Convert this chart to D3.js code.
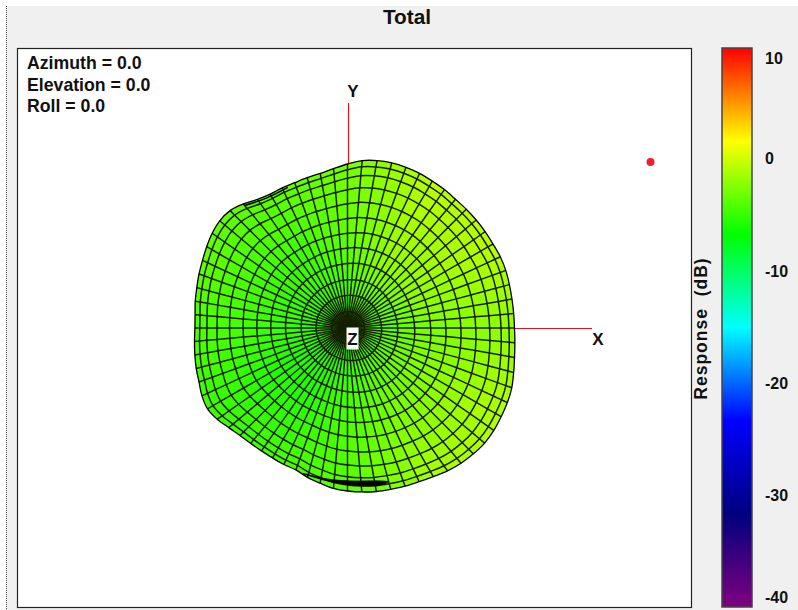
<!DOCTYPE html>
<html>
<head>
<meta charset="utf-8">
<script src="https://cdn.jsdelivr.net/npm/d3@7"></script>
<style>
  html, body { margin: 0; padding: 0; background: #fff; }
  svg { display: block; }
  text { font-family: "Liberation Sans", Arial, sans-serif; font-weight: bold; fill: #111; }
</style>
</head>
<body>
<svg id="chart" width="798" height="610"></svg>
<script>
// balloon outline, one value per meridian (every 5 deg, counter-clockwise from +X)
const limbRadius = [
    83.5, 83.4, 83.5, 83.8, 84.2, 84.3, 84, 84, 84, 84,
    84, 84.5, 84.8, 85.3, 85.5, 85.5, 85, 84, 82, 80,
    78.5, 77.8, 77.3, 77.3, 77.3, 78.5, 81, 83, 83.4, 82.6,
    81.3, 80, 79, 78, 77.3, 76.5, 76.3, 76.8, 77.5, 78.3,
    79, 80.3, 80.8, 79.5, 77.5, 76, 75.3, 75, 75, 75.3,
    75.5, 77.3, 78.8, 80.5, 81.5, 82.3, 83, 83.5, 84.2, 84.8,
    85.8, 87.2, 88.3, 89, 89.5, 89.3, 88.7, 88.2, 87.4, 86,
    84.8, 84
];
// rings of the mesh, as a fraction of the outline
const ringFractions = [0, 0.1, 0.2, 0.295, 0.395, 0.49, 0.58, 0.67, 0.76, 0.845, 0.915, 0.965, 1];

// response (dB), every 30 deg of azimuth
const sectorAzimuths = [0, 30, 60, 90, 120, 150, 180, 210, 240, 270, 300, 330, 360];
const responseCentre = [-4.9, -4.8, -4.8, -5, -5.1, -5.2, -5.2, -5.3, -5.4, -5.4, -5.1, -4.9, -4.9];
const responseMiddle = [-2.75, -1.8, -1.8, -3.7, -4.7, -5, -4.7, -5.8, -5.7, -4.4, -3.1, -2.4, -2.75];
const responseOuter = [-1.8, -0.6, -0.5, -2.75, -3.7, -3.4, -4, -4.7, -4.4, -3.7, -1.1, -0.8, -1.8];
const responseRings = [0, 0.45, 1];

// dark folds of the surface along the outline
const foldBottomAz = [253, 262, 271, 282, 285];
const foldBottomInner = [76, 76.2, 76.5, 78.2, 79.5];
const foldBottomOuter = [76.2, 77, 78.5, 80.2, 79.6];
const foldTopAz = [113, 122, 130];
const foldTopRadius = [76.4, 76.6, 80];

const colorStops = ["#ff0000", "#ffff00", "#00ff00", "#00ffff", "#0000ff", "#00007f", "#800080"];
const colorTicks = [10, 0, -10, -20, -30, -40];
const viewLabels = ["Azimuth = 0.0", "Elevation = 0.0", "Roll = 0.0"];

const svg = d3.select("#chart");
const plot = { left: 17, top: 48, right: 691, bottom: 607 };
const bar = { left: 722, top: 48, right: 752, bottom: 607 };
const centre = { x: 347.5, y: 328 };

// window background
svg.append("rect").attr("y", 6).attr("width", 798).attr("height", 604).attr("fill", "#f0f0f0");
svg.append("rect").attr("y", 6).attr("width", 6).attr("height", 604).attr("fill", "#fff");
svg.append("line").attr("x1", 6.5).attr("x2", 6.5).attr("y1", 6).attr("y2", 610)
    .attr("stroke", "#555").attr("stroke-dasharray", "1 1");

svg.append("text").attr("x", 407).attr("y", 24).attr("text-anchor", "middle")
    .style("font-size", "20.8px").text("Total");

svg.append("rect")
    .attr("x", plot.left + 0.5).attr("y", plot.top + 0.5)
    .attr("width", plot.right - plot.left).attr("height", plot.bottom - plot.top)
    .attr("fill", "#fff").attr("stroke", "#222").attr("stroke-width", 1.2);

svg.append("g").selectAll("text").data(viewLabels).join("text")
    .attr("x", 27).attr("y", (d, i) => 69 + i * 21.5)
    .style("font-size", "17.7px").text(d => d);

// axes of the view, behind the surface
const axesG = svg.append("g").attr("stroke", "#e0141e").attr("stroke-width", 1.2);
axesG.append("line").attr("x1", 348.5).attr("x2", 348.5).attr("y1", 103).attr("y2", centre.y);
axesG.append("line").attr("x1", centre.x).attr("x2", 592).attr("y1", 328.5).attr("y2", 328.5);
svg.append("text").attr("x", 353).attr("y", 97).attr("text-anchor", "middle").style("font-size", "17px").text("Y");
svg.append("text").attr("x", 598).attr("y", 345).attr("text-anchor", "middle").style("font-size", "17px").text("X");

svg.append("circle").attr("cx", 650.5).attr("cy", 162).attr("r", 4).attr("fill", "#ee2030");

// colour scale shared by the surface and the colour bar
const colorScale = d3.scaleLinear()
    .domain(colorStops.map((c, i) => 10 - i * 50 / (colorStops.length - 1)))
    .range(colorStops)
    .clamp(true);

// surface mesh
const radius = d3.scaleLinear().domain([0, 100]).range([0, 200]);
const meridians = limbRadius.length;
const azStep = 360 / meridians;
const sectorScale = series => d3.scaleLinear().domain(sectorAzimuths).range(series);
const centreAt = sectorScale(responseCentre), middleAt = sectorScale(responseMiddle), outerAt = sectorScale(responseOuter);

function responseAt(az, frac) {
    const ringScale = d3.scaleLinear().domain(responseRings).range([centreAt(az), middleAt(az), outerAt(az)]);
    return ringScale(frac);
}

// the bumps of the outline fade out towards the middle of the surface
const limbSoft = limbRadius.map((l, i) =>
    d3.mean(d3.range(-6, 7), k => limbRadius[(i + k + meridians) % meridians]));
const meshRadius = (i, f) => {
    const m = (i + meridians) % meridians;
    return f * (limbSoft[m] + (limbRadius[m] - limbSoft[m]) * Math.pow(f, 3));
};

// math azimuth to d3 radial angle (0 = up, clockwise)
const toAngle = az => (90 - az) * Math.PI / 180;
const polar = d3.lineRadial()
    .angle(d => toAngle(d.az))
    .radius(d => radius(d.r));

const cells = [];
limbRadius.forEach((limb, i) => {
    d3.pairs(ringFractions).forEach(([f0, f1]) => {
        const az0 = i * azStep, az1 = (i + 1) * azStep;
        cells.push({
            corners: [
                { az: az0, r: meshRadius(i, f0) }, { az: az1, r: meshRadius(i + 1, f0) },
                { az: az1, r: meshRadius(i + 1, f1) }, { az: az0, r: meshRadius(i, f1) }
            ],
            db: responseAt(az0 + azStep / 2, (f0 + f1) / 2)
        });
    });
});

const mesh = svg.append("g").attr("transform", `translate(${centre.x},${centre.y})`);

mesh.append("g").selectAll("path").data(cells).join("path")
    .attr("d", d => polar.curve(d3.curveLinearClosed)(d.corners))
    .attr("fill", d => colorScale(d.db))
    .attr("stroke", d => colorScale(d.db))
    .attr("stroke-width", 0.4);

// rings and meridians
const ringPath = f => polar.curve(d3.curveCatmullRomClosed)(limbRadius.map((l, i) => ({ az: i * azStep, r: meshRadius(i, f) })));

mesh.append("g").selectAll("path").data(ringFractions.slice(1, -1)).join("path")
    .attr("fill", "none").attr("stroke", "#142000").attr("stroke-width", 1.5)
    .attr("d", ringPath);

mesh.append("g").selectAll("path").data(limbRadius).join("path")
    .attr("fill", "none").attr("stroke", "#142000").attr("stroke-width", 1.5)
    .attr("d", (l, i) => polar.curve(d3.curveLinear)(ringFractions.map(f => ({ az: i * azStep, r: meshRadius(i, f) }))));

// outline and folds
mesh.append("path").attr("fill", "none").attr("stroke", "#000").attr("stroke-width", 1.3)
    .attr("d", ringPath(1));
mesh.append("path").attr("fill", "#000").attr("stroke", "#000").attr("stroke-width", 1)
    .attr("d", d3.areaRadial()
        .angle(d => toAngle(d))
        .innerRadius((d, i) => radius(foldBottomInner[i]))
        .outerRadius((d, i) => radius(foldBottomOuter[i]))
        .curve(d3.curveCatmullRom)(foldBottomAz));
mesh.append("path").attr("fill", "none").attr("stroke", "#000").attr("stroke-width", 1.5)
    .attr("d", polar.curve(d3.curveCatmullRom)(foldTopAz.map((az, i) => ({ az, r: foldTopRadius[i] }))));

// Z label sits on a white box
svg.append("rect").attr("x", 346.5).attr("y", 327.5).attr("width", 12).attr("height", 22).attr("fill", "#fff");
svg.append("text").attr("x", 352.5).attr("y", 345).attr("text-anchor", "middle").style("font-size", "17px").text("Z");

// colour bar
const barScale = d3.scaleLinear().domain([10, -40]).range([bar.top, bar.bottom]);
const gradient = svg.append("defs").append("linearGradient")
    .attr("id", "barGradient").attr("x1", "0%").attr("x2", "0%").attr("y1", "0%").attr("y2", "100%");
gradient.selectAll("stop").data(colorStops).join("stop")
    .attr("offset", (d, i) => `${100 * i / (colorStops.length - 1)}%`)
    .attr("stop-color", d => d);
svg.append("rect")
    .attr("x", bar.left).attr("y", bar.top)
    .attr("width", bar.right - bar.left).attr("height", bar.bottom - bar.top)
    .attr("fill", "url(#barGradient)").attr("stroke", "#444").attr("stroke-width", 1.5);

const barAxis = svg.append("g").attr("transform", `translate(${bar.right},0)`)
    .call(d3.axisRight(barScale).tickValues(colorTicks).tickSize(0).tickPadding(13).tickFormat(d => d));
barAxis.select(".domain").remove();
barAxis.selectAll("text")
    .style("font-size", "16px")
    .attr("dy", "0.36em");
// end labels are pulled inside the bar's range
barAxis.selectAll(".tick").attr("transform", d => `translate(0,${Math.min(597.5, Math.max(58, barScale(d) - (d === 0 ? 1.5 : 0)))})`);

svg.append("text")
    .attr("transform", "translate(707,328.5) rotate(-90)")
    .attr("text-anchor", "middle").attr("xml:space", "preserve")
    .style("white-space", "pre").style("font-size", "17.5px").style("letter-spacing", "1px")
    .text("Response  (dB)");
</script>
</body>
</html>
